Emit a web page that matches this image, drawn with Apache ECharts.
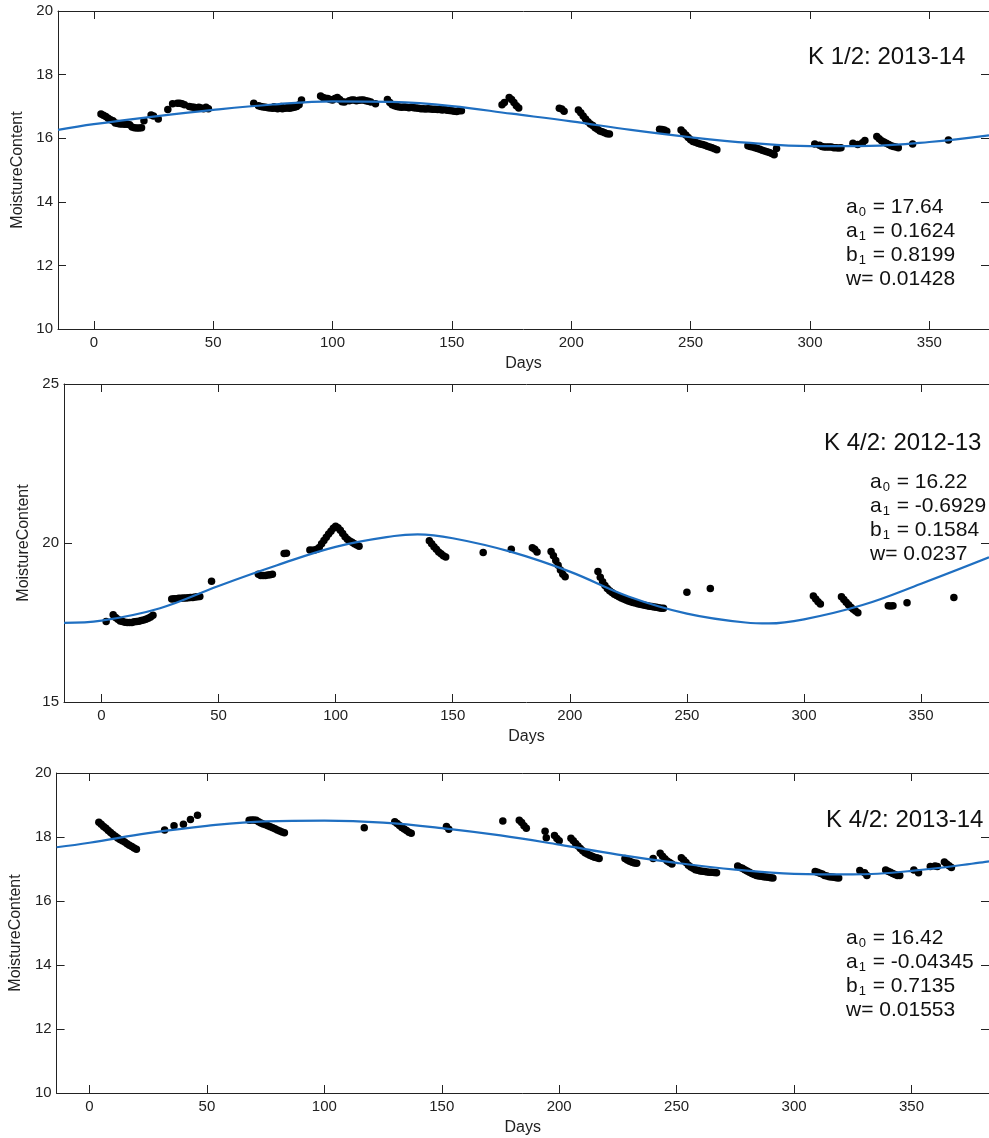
<!DOCTYPE html>
<html>
<head>
<meta charset="utf-8">
<script src="https://cdn.jsdelivr.net/npm/echarts@6.0.0/dist/echarts.min.js"></script>
<style>
html,body{margin:0;padding:0;background:#fff;}
#chart{width:989px;height:1138px;}
</style>
</head>
<body>
<div id="chart"></div>
<script>
// ---------- DATA ----------
const xTickValues = [0, 50, 100, 150, 200, 250, 300, 350];
const panelTitles = ['K 1/2: 2013-14', 'K 4/2: 2012-13', 'K 4/2: 2013-14'];
const panelParams = [
  ['a{s|0} = 17.64', 'a{s|1} = 0.1624', 'b{s|1} = 0.8199', 'w= 0.01428'],
  ['a{s|0} = 16.22', 'a{s|1} = -0.6929', 'b{s|1} = 0.1584', 'w= 0.0237'],
  ['a{s|0} = 16.42', 'a{s|1} = -0.04345', 'b{s|1} = 0.7135', 'w= 0.01553']
];
const xName = 'Days';
const yName = 'MoistureContent';

// panel 1: K 1/2 2013-14 measured points [day, moisture]
const k12Dots = [
  [3,16.76],[4,16.72],[5,16.68],[6,16.63],[7,16.58],[8,16.55],
  [9,16.48],[10,16.46],[11,16.45],[12,16.45],[13,16.44],[14,16.44],[15,16.42],
  [16,16.35],[17,16.33],[18,16.32],[19,16.32],[20,16.33],
  [21,16.55],[24,16.73],[25,16.70],[27,16.60],[31,16.90],[33,17.08],[35,17.10],[36,17.10],[37,17.08],[38,17.05],
  [40,17.00],[41,16.98],[42,16.97],[43,16.95],[44,16.97],[45,16.95],[46,16.93],[47,16.97],[48,16.93],
  [67,17.10],[69,17.02],[70,17.00],[71,16.98],[72,16.97],[73,16.96],[74,16.95],[75,16.94],[75.5,16.99],[76,16.95],
  [77,16.93],[78,16.94],[78.5,17.00],[79,16.93],[80,16.94],[81,16.95],[81.5,16.98],[82,16.94],[83,16.96],[84,16.97],
  [85,17.00],[86,17.05],[87,17.20],
  [95,17.33],[96,17.28],[97,17.26],[98,17.25],[99,17.22],[100,17.20],[101,17.25],[102,17.28],[103,17.22],
  [104,17.15],[105,17.14],[107,17.18],[108,17.20],[109,17.20],[110,17.18],[111,17.19],[112,17.20],[113,17.20],
  [114,17.18],[115,17.16],[116,17.14],[118,17.08],
  [123,17.22],[124,17.12],[125,17.05],[126,17.02],[127,17.00],[128,16.98],[129,16.97],[130,16.98],[131,16.97],
  [132,16.96],[133,16.97],[134,16.96],[135,16.95],[136,16.94],[137,16.93],[138,16.93],[139,16.92],[140,16.93],
  [141,16.92],[142,16.91],[143,16.91],[144,16.90],[145,16.90],[146,16.89],[147,16.90],[148,16.88],[149,16.87],
  [150,16.86],[151,16.85],[152,16.84],[153,16.86],[154,16.86],
  [171,17.05],[172,17.12],[174,17.28],[175,17.22],[176,17.12],[177,17.02],[178,16.95],
  [195,16.94],[196,16.92],[197,16.85],
  [203,16.89],[204,16.80],[205,16.70],[206,16.60],[207,16.52],[208,16.45],[209,16.40],[210,16.33],[211,16.28],
  [212,16.23],[213,16.20],[214,16.17],[215,16.14],[216,16.13],
  [237,16.28],[238,16.27],[239,16.26],[240,16.22],
  [246,16.26],[247,16.18],[248,16.10],[249,16.02],[250,15.95],[251,15.90],[252,15.87],[253,15.84],[254,15.82],
  [255,15.80],[256,15.78],[257,15.75],[258,15.72],[259,15.70],[260,15.67],[261,15.64],
  [274,15.76],[275,15.74],[276,15.72],[277,15.70],[278,15.68],[279,15.65],[280,15.62],[281,15.60],[282,15.57],
  [283,15.55],[284,15.52],[285,15.48],[286,15.68],
  [302,15.82],[304,15.78],[305,15.74],[306,15.72],[307,15.72],[308,15.72],[309,15.72],[310,15.70],[311,15.70],
  [312,15.69],[313,15.70],
  [318,15.84],[320,15.80],[322,15.86],[323,15.93],[328,16.05],[329,15.98],[330,15.92],[331,15.88],[332,15.84],
  [333,15.80],[334,15.76],[335,15.74],[336,15.72],[337,15.70],
  [343,15.82],[358,15.94]
];
// panel 1 fitted curve [day, moisture]
const k12Fit = [
  [-15,16.26],[0,16.44],[25,16.68],[50,16.89],[75,17.06],[100,17.16],[125,17.14],[150,17.01],
  [175,16.77],[200,16.53],[225,16.26],[250,16.03],[275,15.85],[300,15.75],[325,15.76],[350,15.88],[375,16.09]
];

// panel 2: K 4/2 2012-13
const k42aDots = [
  [2,17.53],[5,17.74],[6,17.66],[7,17.60],[8,17.55],[9,17.53],[10,17.51],[11,17.50],[12,17.50],[13,17.50],
  [14,17.52],[15,17.53],[16,17.54],[17,17.56],[18,17.58],[19,17.60],[20,17.63],[21,17.67],[22,17.73],
  [30,18.24],[31,18.25],[32,18.25],[33,18.26],[34,18.26],[35,18.27],[36,18.27],[37,18.28],[38,18.29],[39,18.29],
  [40,18.30],[41,18.31],[42,18.32],
  [47,18.80],
  [67,19.02],[68,18.98],[69,18.98],[70,18.98],[71,18.99],[72,19.00],[73,19.02],
  [78,19.67],[79,19.68],
  [89,19.78],[90,19.77],[91,19.78],[92,19.80],[93,19.86],[94,19.98],[95,20.08],[96,20.18],[97,20.28],[98,20.37],
  [99,20.46],[100,20.53],[101,20.48],[102,20.40],[103,20.30],[104,20.20],[105,20.12],[106,20.06],[107,20.02],
  [108,19.98],[109,19.94],[110,19.90],
  [140,20.07],[141,19.98],[142,19.88],[143,19.80],[144,19.72],[145,19.66],[146,19.60],[147,19.56],
  [163,19.70],[175,19.80],
  [184,19.85],[185,19.80],[186,19.72],
  [192,19.73],[193,19.60],[194,19.45],[195,19.30],[196,19.15],[197,19.02],[198,18.94],
  [212,19.10],[213,18.92],[214,18.78],[215,18.66],[216,18.57],[217,18.50],[218,18.44],[219,18.39],[220,18.35],
  [221,18.31],[222,18.27],[223,18.24],[224,18.21],[225,18.18],[226,18.15],[227,18.13],[228,18.11],[229,18.09],
  [230,18.07],[231,18.06],[232,18.04],[233,18.03],[234,18.01],[235,18.00],[236,17.99],[237,17.98],[238,17.96],
  [239,17.95],[240,17.95],
  [250,18.45],[260,18.57],
  [304,18.33],[305,18.24],[306,18.15],[307,18.08],
  [316,18.31],[317,18.22],[318,18.14],[319,18.06],[320,17.98],[321,17.92],[322,17.86],[323,17.81],
  [336,18.03],[337,18.02],[338,18.03],[344,18.12],[364,18.29]
];
const k42aFit = [
  [-16,17.49],[0,17.56],[25,17.95],[50,18.65],[75,19.30],[100,19.88],[125,20.22],[135,20.27],[150,20.15],
  [175,19.72],[200,19.10],[225,18.32],[250,17.78],[275,17.50],[285,17.47],[300,17.60],[325,18.05],
  [350,18.72],[379,19.55]
];

// panel 3: K 4/2 2013-14
const k42bDots = [
  [4,18.46],[5,18.40],[6,18.33],[7,18.27],[8,18.20],[9,18.14],[10,18.08],[11,18.02],[12,17.97],[13,17.92],
  [14,17.88],[15,17.84],[16,17.79],[17,17.74],[18,17.70],[19,17.66],[20,17.62],
  [32,18.22],[36,18.35],[40,18.40],[43,18.55],[46,18.68],
  [68,18.52],[69,18.53],[70,18.53],[71,18.52],[72,18.48],[73,18.44],[74,18.41],[75,18.38],[76,18.35],[77,18.32],
  [78,18.29],[79,18.26],[80,18.22],[81,18.19],[82,18.16],[83,18.13],
  [117,18.29],
  [130,18.48],[131,18.42],[132,18.36],[133,18.30],[134,18.25],[135,18.20],[136,18.15],[137,18.12],
  [152,18.33],[153,18.24],
  [176,18.50],
  [183,18.52],[184,18.45],[185,18.35],[186,18.27],
  [194,18.18],[194.5,17.98],
  [198,18.05],[199,17.95],[200,17.88],
  [205,17.96],[206,17.88],[207,17.80],[208,17.72],[209,17.64],[210,17.57],[211,17.51],[212,17.47],[213,17.43],
  [214,17.40],[215,17.37],[216,17.35],[217,17.33],
  [228,17.33],[229,17.28],[230,17.24],[231,17.21],[232,17.19],[233,17.18],
  [240,17.33],
  [243,17.49],[244,17.40],[245,17.32],[246,17.25],[247,17.20],[248,17.16],
  [252,17.35],[253,17.28],[254,17.20],[255,17.12],[256,17.06],[257,17.02],[258,16.98],[259,16.96],[260,16.94],
  [261,16.93],[262,16.92],[263,16.91],[264,16.90],[265,16.90],[266,16.89],[267,16.88],
  [276,17.09],[277,17.05],[278,17.02],[279,16.98],[280,16.94],[281,16.90],[282,16.86],[283,16.83],[284,16.80],
  [285,16.78],[286,16.77],[287,16.76],[288,16.75],[289,16.74],[290,16.73],[291,16.72],
  [309,16.92],[310,16.90],[311,16.87],[312,16.84],[313,16.80],[314,16.78],[315,16.76],[316,16.75],[317,16.74],
  [318,16.73],[319,16.72],
  [328,16.95],[330,16.88],[331,16.80],
  [339,16.97],[340,16.93],[341,16.90],[342,16.86],[343,16.83],[344,16.80],[345,16.80],
  [351,16.97],[353,16.88],
  [358,17.08],[360,17.09],[361,17.08],
  [364,17.22],[365,17.16],[366,17.10],[367,17.05]
];
const k42bFit = [
  [-14,17.68],[0,17.82],[25,18.12],[50,18.35],[75,18.49],[100,18.51],[125,18.45],[150,18.28],[175,18.05],
  [200,17.76],[225,17.45],[250,17.19],[275,16.98],[300,16.85],[325,16.83],[350,16.94],[383,17.24]
];

// axis ranges
const xRanges = [[-15, 375], [-16, 379], [-14, 383]];
const yRanges = [[10, 20, 2], [15, 25, 5], [10, 20, 2]];

// ---------- LAYOUT / STYLE ----------
const FONT = '"Liberation Sans", Arial, Helvetica, sans-serif';
const grids = [
  {left: 58, top: 11, width: 933, height: 318},
  {left: 64, top: 384, width: 926, height: 318},
  {left: 55, top: 773, width: 935, height: 320}
];
const titlePos = [[808, 57], [824, 443], [826, 820]];
const paramPos = [[846, 195], [870, 470], [846, 926]];
const dotsAll = [k12Dots, k42aDots, k42bDots];
const fitAll = [k12Fit, k42aFit, k42bFit];
const axisColor = '#222';
const lineBlue = '#1f6fc1';

const xAxes = [], yAxes = [], series = [], graphics = [];
for (let i = 0; i < 3; i++) {
  const base = {
    type: 'value', gridIndex: i, min: xRanges[i][0], max: xRanges[i][1],
    splitLine: {show: false},
    axisLine: {onZero: false, lineStyle: {color: axisColor, width: 1}}
  };
  xAxes.push(Object.assign({}, base, {
    position: 'bottom',
    axisTick: {inside: true, length: 8, lineStyle: {color: axisColor}, customValues: xTickValues},
    axisLabel: {customValues: xTickValues, fontSize: 15, color: '#222', margin: 6, fontFamily: FONT},
    name: xName, nameLocation: 'middle', nameGap: 27,
    nameTextStyle: {fontSize: 16, color: '#222', fontFamily: FONT}
  }));
  xAxes.push(Object.assign({}, base, {
    position: 'top',
    axisTick: {inside: true, length: 8, lineStyle: {color: axisColor}, customValues: xTickValues},
    axisLabel: {show: false}
  }));
  const ybase = {
    type: 'value', gridIndex: i, min: yRanges[i][0], max: yRanges[i][1], interval: yRanges[i][2],
    splitLine: {show: false},
    axisLine: {show: true, onZero: false, lineStyle: {color: axisColor, width: 1}},
    axisTick: {show: true, inside: true, length: 8, lineStyle: {color: axisColor}}
  };
  yAxes.push(Object.assign({}, ybase, {
    position: 'left',
    axisLabel: {fontSize: 15, color: '#222', margin: 5, fontFamily: FONT},
    name: yName, nameLocation: 'middle', nameGap: 32,
    nameTextStyle: {fontSize: 16, color: '#222', fontFamily: FONT}
  }));
  yAxes.push(Object.assign({}, ybase, {
    position: 'right',
    axisLabel: {show: false}
  }));

  series.push({
    type: 'scatter', xAxisIndex: 2 * i, yAxisIndex: 2 * i,
    data: dotsAll[i], symbolSize: 7.5, itemStyle: {color: '#000', opacity: 1}, z: 2
  });
  series.push({
    type: 'line', xAxisIndex: 2 * i, yAxisIndex: 2 * i,
    data: fitAll[i], smooth: 0.4, showSymbol: false, symbol: 'none',
    lineStyle: {color: lineBlue, width: 2.2}, z: 3
  });

  graphics.push({
    type: 'text', x: titlePos[i][0], y: titlePos[i][1], z: 10,
    style: {text: panelTitles[i], font: '24px ' + FONT, fill: '#111', verticalAlign: 'middle', align: 'left'}
  });
  graphics.push({
    type: 'text', x: paramPos[i][0], y: paramPos[i][1], z: 10,
    style: {
      text: panelParams[i].join('\n'), font: '21px ' + FONT, fill: '#111',
      lineHeight: 24, verticalAlign: 'top', align: 'left',
      rich: {s: {fontSize: 13, fontFamily: FONT, fill: '#111', verticalAlign: 'bottom', lineHeight: 24, padding: [0, 1, 0, 1]}}
    }
  });
}

const chart = echarts.init(document.getElementById('chart'), null, {renderer: 'canvas'});
chart.setOption({
  animation: false,
  backgroundColor: '#fff',
  grid: grids.map(g => Object.assign({containLabel: false, show: false}, g)),
  xAxis: xAxes,
  yAxis: yAxes,
  series: series,
  graphic: graphics
});
</script>
</body>
</html>
